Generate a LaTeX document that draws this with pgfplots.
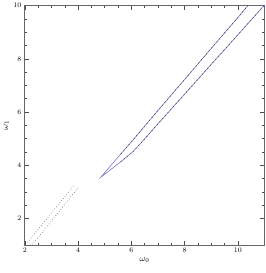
\documentclass[border=0pt]{standalone}
\usepackage{pgfplots}
\pgfplotsset{compat=1.18}
\definecolor{contour}{RGB}{120,120,200}
\begin{document}
\begin{tikzpicture}
\begin{axis}[
  scale only axis,
  width=241pt, height=241pt,
  xmin=2, xmax=11, ymin=1, ymax=10,
  xtick={2,4,6,8,10}, ytick={2,4,6,8,10},
  minor tick num=3,
  tick align=inside,
  major tick length=4pt, minor tick length=2pt,
  axis line style={gray!80!black, line width=0.8pt},
  every tick/.style={gray!60!black, line width=0.5pt},
  tick label style={font=\scriptsize},
  xticklabel style={yshift=1pt},
  xlabel={$\omega_0$}, ylabel={$\omega_1$},
  label style={font=\small},
  xlabel style={yshift=1pt},
  ylabel style={yshift=-2pt},
]
% solid contour (closed wedge)
\addplot[contour, line width=0.6pt] coordinates {
 (10.38,10) (10,9.55) (9,8.39) (8,7.22) (7,6.06) (6.07,4.96) (5.4,4.19) (4.85,3.55)
 (5.2,3.82) (5.6,4.13) (6.07,4.52) (6.5,4.99) (7,5.56) (8,6.67) (9,7.79) (10,8.9) (11,10.02)
};
% dashed black lines
\addplot[black!75, dash pattern=on 1.5pt off 2.5pt, line width=0.45pt] coordinates {
 (5.6,4.42) (6.07,4.96) (7,6.06) (8,7.22) (9,8.39) (10,9.55) (10.38,10)
};
\addplot[black!75, dash pattern=on 1.5pt off 2.5pt, line width=0.45pt] coordinates {
 (5.6,4.13) (6.07,4.52) (6.5,4.99) (7,5.56) (8,6.67) (9,7.79) (10,8.9) (11,10.02)
};
% dotted gray lines
\addplot[gray, dotted, line width=0.7pt] coordinates {(2.1,1.1) (3.85,3.25)};
\addplot[gray, dotted, line width=0.7pt] coordinates {(2.27,1.0) (3.98,3.13)};
\end{axis}
\path (current axis.south west) ++(-25pt,-28pt);
\path (current axis.north east) ++(1pt,4pt);
\end{tikzpicture}
\end{document}
